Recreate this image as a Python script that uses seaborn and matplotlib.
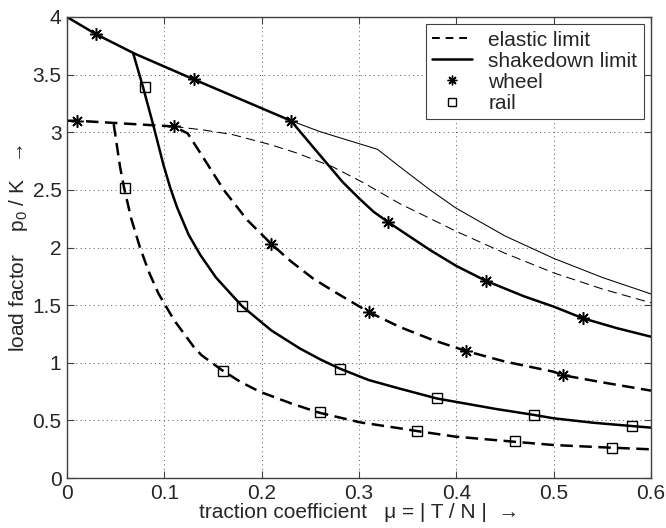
import numpy as np
import pandas as pd
import matplotlib
matplotlib.use("Agg")
import matplotlib.pyplot as plt
import seaborn as sns
from matplotlib.lines import Line2D

# wheel: shakedown limit (thick solid)
wheel_sd_x = [0, 0.03, 0.07, 0.13, 0.18, 0.23, 0.25, 0.267, 0.283, 0.30, 0.315, 0.33, 0.342, 0.373, 0.40, 0.43, 0.47, 0.50, 0.53, 0.565, 0.6]
wheel_sd_y = [4.0, 3.85, 3.68, 3.46, 3.28, 3.10, 2.90, 2.73, 2.57, 2.427, 2.31, 2.22, 2.152, 1.978, 1.84, 1.712, 1.575, 1.487, 1.386, 1.30, 1.226]

# wheel: shakedown limit, other case (thin solid)
wheel_sd2_x = [0.23, 0.26, 0.319, 0.342, 0.373, 0.40, 0.45, 0.50, 0.55, 0.6]
wheel_sd2_y = [3.10, 3.005, 2.852, 2.70, 2.50, 2.34, 2.10, 1.906, 1.74, 1.597]

# wheel: elastic limit, other case (thin dashed)
wheel_el2_x = [0.11, 0.14, 0.17, 0.21, 0.236, 0.273, 0.305, 0.342, 0.40, 0.45, 0.50, 0.55, 0.6]
wheel_el2_y = [3.05, 3.02, 2.98, 2.89, 2.82, 2.70, 2.56, 2.38, 2.14, 1.95, 1.78, 1.64, 1.52]

# wheel: elastic limit (thick dashed)
wheel_el_x = [0, 0.01, 0.05, 0.11, 0.124, 0.137, 0.149, 0.161, 0.173, 0.185, 0.21, 0.23, 0.253, 0.274, 0.31, 0.342, 0.375, 0.41, 0.45, 0.50, 0.51, 0.55, 0.6]
wheel_el_y = [3.10, 3.10, 3.08, 3.05, 2.99, 2.82, 2.66, 2.50, 2.37, 2.24, 2.03, 1.88, 1.73, 1.62, 1.44, 1.31, 1.20, 1.102, 1.01, 0.922, 0.891, 0.83, 0.758]

# rail: shakedown limit (thick solid)
rail_sd_x = [0.068, 0.0785, 0.0887, 0.099, 0.106, 0.113, 0.125, 0.137, 0.153, 0.171, 0.18, 0.21, 0.239, 0.26, 0.28, 0.31, 0.342, 0.38, 0.40, 0.44, 0.48, 0.50, 0.54, 0.58, 0.6]
rail_sd_y = [3.685, 3.38, 3.06, 2.72, 2.52, 2.35, 2.11, 1.935, 1.74, 1.573, 1.49, 1.28, 1.125, 1.03, 0.95, 0.85, 0.775, 0.69, 0.66, 0.60, 0.547, 0.518, 0.48, 0.451, 0.437]

# rail: elastic limit (thick dashed)
rail_el_x = [0.048, 0.0545, 0.0586, 0.066, 0.075, 0.084, 0.094, 0.11, 0.13, 0.138, 0.159, 0.178, 0.198, 0.23, 0.259, 0.301, 0.342, 0.359, 0.399, 0.459, 0.50, 0.559, 0.6]
rail_el_y = [3.07, 2.70, 2.52, 2.25, 2.00, 1.79, 1.60, 1.37, 1.14, 1.067, 0.937, 0.835, 0.749, 0.648, 0.567, 0.483, 0.431, 0.408, 0.359, 0.315, 0.286, 0.263, 0.249]

# marker positions
wheel_mk_x = [0.03, 0.13, 0.23, 0.33, 0.43, 0.53, 0.01, 0.11, 0.21, 0.31, 0.41, 0.51]
wheel_mk_y = [3.85, 3.46, 3.10, 2.22, 1.71, 1.39, 3.10, 3.05, 2.03, 1.44, 1.10, 0.89]
rail_mk_x = [0.08, 0.18, 0.28, 0.38, 0.48, 0.58, 0.06, 0.16, 0.26, 0.36, 0.46, 0.56]
rail_mk_y = [3.39, 1.49, 0.95, 0.69, 0.55, 0.45, 2.52, 0.93, 0.57, 0.41, 0.32, 0.26]

xticks = [0, 0.1, 0.2, 0.3, 0.4, 0.5, 0.6]
xtick_labels = ["0", "0.1", "0.2", "0.3", "0.4", "0.5", "0.6"]
yticks = [0, 0.5, 1, 1.5, 2, 2.5, 3, 3.5, 4]
ytick_labels = ["0", "0.5", "1", "1.5", "2", "2.5", "3", "3.5", "4"]

sns.set_style("ticks")
plt.rcParams['font.family'] = ['Liberation Sans', 'DejaVu Sans']
plt.rcParams['mathtext.fontset'] = 'custom'
plt.rcParams['mathtext.rm'] = 'Liberation Sans'
plt.rcParams['mathtext.default'] = 'regular'

fig = plt.figure(figsize=(6.66, 5.28), dpi=100)
ax = fig.add_axes([67/666, 50/528, 584/666, 461/528])

thick = 1.8
thin = 0.75
dash_thick = (0, (5, 2.6))
dash_thin = (0, (9, 5))

sns.lineplot(x=wheel_sd2_x, y=wheel_sd2_y, ax=ax, color='k', lw=thin, estimator=None, sort=False)
sns.lineplot(x=wheel_el2_x, y=wheel_el2_y, ax=ax, color='k', lw=thin, linestyle=dash_thin, estimator=None, sort=False)
sns.lineplot(x=wheel_sd_x, y=wheel_sd_y, ax=ax, color='k', lw=thick, estimator=None, sort=False)
sns.lineplot(x=wheel_el_x, y=wheel_el_y, ax=ax, color='k', lw=thick, linestyle=dash_thick, estimator=None, sort=False)
sns.lineplot(x=rail_sd_x, y=rail_sd_y, ax=ax, color='k', lw=thick, estimator=None, sort=False)
sns.lineplot(x=rail_el_x, y=rail_el_y, ax=ax, color='k', lw=thick, linestyle=dash_thick, estimator=None, sort=False)

ax.plot(wheel_mk_x, wheel_mk_y, linestyle='none', marker=(8, 2, 0), markersize=9,
        markeredgewidth=1.1, color='k')
ax.plot(rail_mk_x, rail_mk_y, linestyle='none', marker='s', markersize=7,
        markeredgewidth=1.0, markerfacecolor='none', markeredgecolor='k')

ax.set_xlim(0, 0.6)
ax.set_ylim(0, 4)
ax.set_xticks(xticks)
ax.set_xticklabels(xtick_labels)
ax.set_yticks(yticks)
ax.set_yticklabels(ytick_labels)
ax.tick_params(direction='in', top=True, right=True, length=5, width=0.8,
               labelsize=15, pad=4, color='0.25')
for s in ax.spines.values():
    s.set_linewidth(1.0)
    s.set_color('0.25')
ax.grid(True, color='0.35', linestyle=(0, (1, 3.5)), linewidth=0.7)

ax.set_xlabel("traction coefficient   \u03bc = | T / N |  \u2192", fontsize=15, labelpad=0)
ax.set_ylabel("load factor    p$_0$ / K   \u2192", fontsize=15, labelpad=2)

handles = [
    Line2D([], [], color='k', lw=1.4, linestyle=(0, (4, 3))),
    Line2D([], [], color='k', lw=1.8),
    Line2D([], [], color='k', linestyle='none', marker=(8, 2, 0), markersize=7, markeredgewidth=1),
    Line2D([], [], color='k', linestyle='none', marker='s', markersize=6,
           markerfacecolor='none', markeredgewidth=1),
]
labels = ["elastic limit", "shakedown limit", "wheel", "rail"]
leg = ax.legend(handles, labels, loc='upper right', fontsize=15, frameon=True,
                fancybox=False, edgecolor='0.25', framealpha=1, handlelength=1.9,
                borderpad=0.3, labelspacing=0.1, handletextpad=0.8,
                borderaxespad=0.35)
leg.get_frame().set_linewidth(0.8)

fig.savefig("out.png", dpi=100)
